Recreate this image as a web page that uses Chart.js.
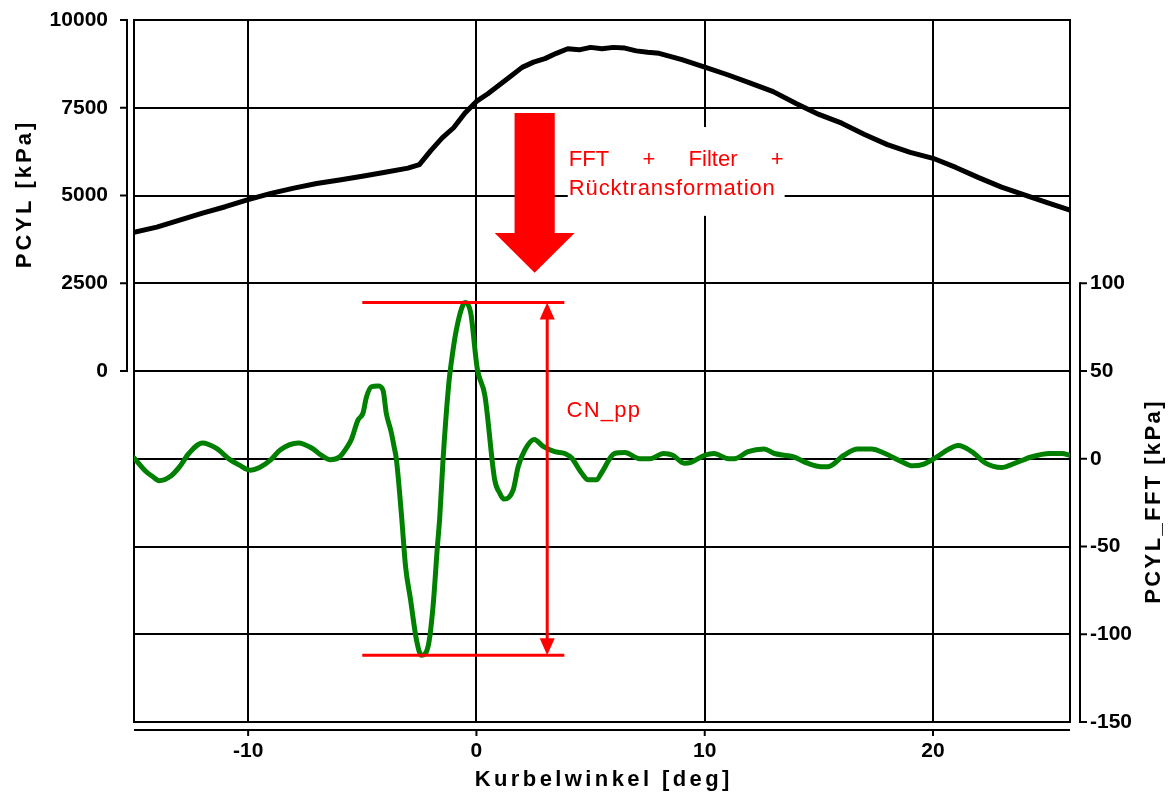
<!DOCTYPE html>
<html>
<head>
<meta charset="utf-8">
<script src="https://cdn.jsdelivr.net/npm/chart.js@4"></script>
<style>
  html, body { margin: 0; padding: 0; background: #fff; }
  #wrap { width: 1171px; height: 794px; position: relative; }
</style>
</head>
<body>
<div id="wrap"><canvas id="c"></canvas></div>
<script>
// cylinder pressure PCYL (left axis)
const pcylAngle = [-15, -14, -13, -12, -11, -10, -9, -8, -7, -6, -5, -4, -3, -2.5, -2, -1.5, -1, -0.5,
  0, 0.5, 1, 1.5, 2, 2.5, 3, 3.5, 4, 4.5, 5, 5.5, 6, 6.5, 7, 7.5, 8, 9, 10, 11, 12, 13, 14, 15,
  16, 17, 18, 19, 20, 21, 22, 23, 24, 25, 26];
const pcylValues = [3950, 4100, 4300, 4500, 4680, 4880, 5060, 5210, 5340, 5440, 5550, 5660, 5780, 5880, 6280, 6640, 6930, 7350,
  7680, 7900, 8150, 8400, 8650, 8800, 8900, 9050, 9180, 9150, 9220, 9180, 9220, 9200, 9120, 9080, 9050, 8870, 8660, 8440, 8200, 7960, 7620, 7310,
  7060, 6740, 6450, 6230, 6060, 5800, 5510, 5240, 5020, 4800, 4580];

// filtered signal PCYL_FFT (right axis)
const fftAngle = [-15, -14.5, -14.2, -13.9, -13.4, -13, -12.6, -12, -11.4, -10.8, -10.4, -9.9, -9.5, -9, -8.6, -7.8, -7.2, -6.8, -6.4, -6,
  -5.65, -5.48, -5.19, -4.97, -4.82, -4.6, -4.31, -4.09, -3.95, -3.73, -3.61, -3.51, -3.29, -3.1, -2.89, -2.63, -2.41, -2.12, -1.9, -1.71,
  -1.61, -1.46, -1.21, -1.1, -0.88, -0.58, -0.47, -0.25, 0.04, 0.37, 0.8, 1.02, 1.21, 1.61, 1.83, 2.12, 2.53, 2.92, 3.43, 3.87,
  4.17, 4.6, 4.9, 5.26, 5.48, 6.05, 6.5, 7.15, 7.6, 8.2, 8.6, 9.1, 9.4, 10, 10.4, 11.05, 11.3, 11.9, 12.6, 13.05,
  13.9, 14.5, 15.1, 15.4, 16.1, 16.7, 17.3, 17.9, 18.6, 19.1, 19.6, 20.1, 20.7, 21.1, 21.7, 22.3, 23, 23.6, 24.3, 25.1, 25.65, 26];
const fftValues = [0.5, -7, -10, -12.5, -10, -4.5, 3, 9, 6, -0.5, -3.5, -6.5, -5, -0.5, 5, 9, 6, 2, -0.5, 1,
  7, 11, 22, 26, 35, 41, 41.5, 39, 26, 15, 7, 0, -31, -62, -80, -103, -112, -107, -84, -50,
  -34, 0, 43, 55, 73.5, 88, 89, 83, 51, 36, -12, -19.6, -23, -17.7, -4.4, 5, 11, 7, 4, 3,
  0.4, -8, -12, -12, -8, 3, 3.5, 0, 0, 3, 2, -2.5, -2, 2, 3, 0, 0, 4, 5.5, 3,
  1, -2.5, -4.5, -4.5, 2, 5.5, 5.5, 3, -1.5, -4, -3, 0.5, 5.5, 7.5, 4, -2.5, -5, -2.5, 1, 3, 3, 2];

const xTicks = [-10, 0, 10, 20];
const leftTicks = [0, 2500, 5000, 7500, 10000];
const rightTicks = [-150, -100, -50, 0, 50, 100];

const xTitle = 'Kurbelwinkel [deg]';
const leftTitle = 'PCYL [kPa]';
const rightTitle = 'PCYL_FFT [kPa]';
const noteLine1 = ['FFT', '+', 'Filter', '+'];
const noteLine2 = 'Rücktransformation';
const cnLabel = 'CN_pp';

// annotation placement in data units
const cnSpan = [-5, 3.85];
const cnArrowX = 3.1;
const cnLabelPos = { x: 3.95, y: 24 };
const bigArrow = { x: 2.55, halfShaft: 0.88, halfHead: 1.75, top: 7350, neck: 3930, tip: 2800 };
const noteBox = { x0: 4.0, x1: 13.5, top: 6950, bottom: 4420 };

const cnTop = Math.max(...fftValues);
const cnBottom = Math.min(...fftValues);

const FONT = "'Liberation Sans', Arial, sans-serif";

function drawSpaced(ctx, text, x, y, spacing, align) {
  const chars = [...text];
  const widths = chars.map(ch => ctx.measureText(ch).width);
  const total = widths.reduce((s, w) => s + w, 0) + spacing * (chars.length - 1);
  let cx = align === 'center' ? x - total / 2 : (align === 'right' ? x - total : x);
  ctx.textAlign = 'left';
  chars.forEach((ch, i) => { ctx.fillText(ch, cx, y); cx += widths[i] + spacing; });
  return total;
}

function seg(ctx, x1, y1, x2, y2) {
  ctx.beginPath(); ctx.moveTo(x1, y1); ctx.lineTo(x2, y2); ctx.stroke();
}

// fixed axis sizes so the plot area matches the original
function fixWidth(w) {
  return s => { s.width = w; s.paddingTop = 0; s.paddingBottom = 0; };
}

const decorations = {
  id: 'decorations',
  beforeDatasetsDraw(chart) {
    const { ctx, chartArea: a } = chart;
    ctx.save();
    ctx.strokeStyle = '#000';
    ctx.lineWidth = 2;
    ctx.strokeRect(a.left, a.top, a.right - a.left, a.bottom - a.top);
    ctx.restore();
  },
  afterDatasetsDraw(chart) {
    const { ctx, chartArea: a, scales } = chart;
    const sx = scales.x, yl = scales.y, yr = scales.y2;
    ctx.save();

    // axis lines set off from the plot frame
    ctx.strokeStyle = '#000';
    ctx.lineWidth = 2;
    const lx = a.left - 7;
    seg(ctx, lx, yl.getPixelForValue(0) + 1, lx, yl.getPixelForValue(10000) - 1);
    leftTicks.forEach(v => seg(ctx, lx - 7, yl.getPixelForValue(v), lx, yl.getPixelForValue(v)));
    const rx = a.right + 10;
    seg(ctx, rx, yr.getPixelForValue(-150) + 1, rx, yr.getPixelForValue(100) - 1);
    rightTicks.forEach(v => seg(ctx, rx, yr.getPixelForValue(v), rx + 7, yr.getPixelForValue(v)));
    const by = a.bottom + 8;
    seg(ctx, a.left, by, a.right, by);
    xTicks.forEach(v => seg(ctx, sx.getPixelForValue(v), by, sx.getPixelForValue(v), by + 6));

    // axis titles
    ctx.fillStyle = '#000';
    ctx.font = 'bold 22px ' + FONT;
    ctx.textBaseline = 'middle';
    drawSpaced(ctx, xTitle, (a.left + a.right) / 2, a.bottom + 58, 3.4, 'center');
    ctx.save();
    ctx.translate(25, (yl.getPixelForValue(0) + yl.getPixelForValue(10000)) / 2);
    ctx.rotate(-Math.PI / 2);
    drawSpaced(ctx, leftTitle, 0, 0, 3, 'center');
    ctx.restore();
    ctx.save();
    ctx.translate(1154, (yr.getPixelForValue(-150) + yr.getPixelForValue(100)) / 2);
    ctx.rotate(-Math.PI / 2);
    drawSpaced(ctx, rightTitle, 0, 0, 2.4, 'center');
    ctx.restore();

    // big red arrow
    ctx.fillStyle = '#ff0000';
    const X = v => sx.getPixelForValue(v);
    const YL = v => yl.getPixelForValue(v);
    ctx.beginPath();
    ctx.moveTo(X(bigArrow.x - bigArrow.halfShaft), YL(bigArrow.top));
    ctx.lineTo(X(bigArrow.x + bigArrow.halfShaft), YL(bigArrow.top));
    ctx.lineTo(X(bigArrow.x + bigArrow.halfShaft), YL(bigArrow.neck));
    ctx.lineTo(X(bigArrow.x + bigArrow.halfHead), YL(bigArrow.neck));
    ctx.lineTo(X(bigArrow.x), YL(bigArrow.tip));
    ctx.lineTo(X(bigArrow.x - bigArrow.halfHead), YL(bigArrow.neck));
    ctx.lineTo(X(bigArrow.x - bigArrow.halfShaft), YL(bigArrow.neck));
    ctx.closePath();
    ctx.fill();

    // note box with justified first line
    const bx0 = X(noteBox.x0), bx1 = X(noteBox.x1), bt = YL(noteBox.top), bb = YL(noteBox.bottom);
    ctx.fillStyle = '#fff';
    ctx.fillRect(bx0, bt, bx1 - bx0, bb - bt);
    ctx.fillStyle = '#ff0000';
    ctx.font = '22px ' + FONT;
    ctx.textBaseline = 'alphabetic';
    const wordW = noteLine1.map(w => ctx.measureText(w).width);
    const gap = ((bx1 - bx0 - 2) - wordW.reduce((s, w) => s + w, 0)) / (noteLine1.length - 1);
    let wx = bx0 + 1;
    noteLine1.forEach((w, i) => { ctx.textAlign = 'left'; ctx.fillText(w, wx, bt + 39); wx += wordW[i] + gap; });
    drawSpaced(ctx, noteLine2, bx0 + 1, bt + 68, 0.9, 'left');

    // CN_pp double arrow
    const YR = v => yr.getPixelForValue(v);
    const ax = X(cnArrowX), ay0 = YR(cnTop), ay1 = YR(cnBottom);
    ctx.strokeStyle = '#ff0000';
    ctx.lineWidth = 3;
    seg(ctx, ax, ay0 + 14, ax, ay1 - 14);
    ctx.beginPath();
    ctx.moveTo(ax, ay0); ctx.lineTo(ax + 7.5, ay0 + 17); ctx.lineTo(ax - 7.5, ay0 + 17); ctx.closePath();
    ctx.fill();
    ctx.beginPath();
    ctx.moveTo(ax, ay1); ctx.lineTo(ax + 7.5, ay1 - 17); ctx.lineTo(ax - 7.5, ay1 - 17); ctx.closePath();
    ctx.fill();
    drawSpaced(ctx, cnLabel, X(cnLabelPos.x), YR(cnLabelPos.y), 1.2, 'left');

    ctx.restore();
  }
};

const tickFont = { family: FONT, size: 21, weight: 'bold' };

new Chart(document.getElementById('c'), {
  type: 'line',
  data: {
    datasets: [
      {
        label: 'CN_pp',
        data: [{ x: cnSpan[0], y: cnTop }, { x: cnSpan[1], y: cnTop }],
        yAxisID: 'y2', borderColor: '#ff0000', borderWidth: 3, pointRadius: 0, order: 0
      },
      {
        label: 'CN_pp bottom',
        data: [{ x: cnSpan[0], y: cnBottom }, { x: cnSpan[1], y: cnBottom }],
        yAxisID: 'y2', borderColor: '#ff0000', borderWidth: 3, pointRadius: 0, order: 0
      },
      {
        label: 'PCYL_FFT',
        data: fftAngle.map((x, i) => ({ x, y: fftValues[i] })),
        yAxisID: 'y2', borderColor: '#008000', borderWidth: 5, pointRadius: 0,
        cubicInterpolationMode: 'monotone', borderJoinStyle: 'round', borderCapStyle: 'round', order: 1
      },
      {
        label: 'PCYL',
        data: pcylAngle.map((x, i) => ({ x, y: pcylValues[i] })),
        yAxisID: 'y', borderColor: '#000', borderWidth: 5, pointRadius: 0,
        tension: 0, borderJoinStyle: 'round', order: 2
      }
    ]
  },
  options: {
    responsive: true,
    maintainAspectRatio: false,
    animation: false,
    layout: { padding: { top: 20, left: 0, right: 0, bottom: 0 } },
    plugins: { legend: { display: false }, tooltip: { enabled: false } },
    scales: {
      x: {
        type: 'linear', min: -15, max: 26,
        afterBuildTicks: s => { s.ticks = xTicks.map(v => ({ value: v })); },
        afterFit: s => { s.height = 72; s.paddingLeft = 0; s.paddingRight = 0; },
        grid: { color: '#000', lineWidth: 2, drawTicks: false },
        border: { display: false },
        ticks: { color: '#000', font: tickFont, padding: 17, maxRotation: 0, callback: v => String(v) }
      },
      y: {
        position: 'left', min: -10000, max: 10000,
        afterFit: fixWidth(134),
        grid: { color: '#000', lineWidth: 2, drawTicks: false },
        border: { display: false },
        ticks: { stepSize: 2500, color: '#000', font: tickFont, padding: 26,
          callback: v => leftTicks.includes(v) ? String(v) : '' }
      },
      y2: {
        position: 'right', min: -150, max: 250,
        afterBuildTicks: s => { s.ticks = rightTicks.map(v => ({ value: v })); },
        afterFit: fixWidth(101),
        grid: { display: false, drawTicks: false },
        border: { display: false },
        ticks: { color: '#000', font: tickFont, padding: 20, callback: v => String(v) }
      }
    }
  },
  plugins: [decorations]
});
</script>
</body>
</html>
